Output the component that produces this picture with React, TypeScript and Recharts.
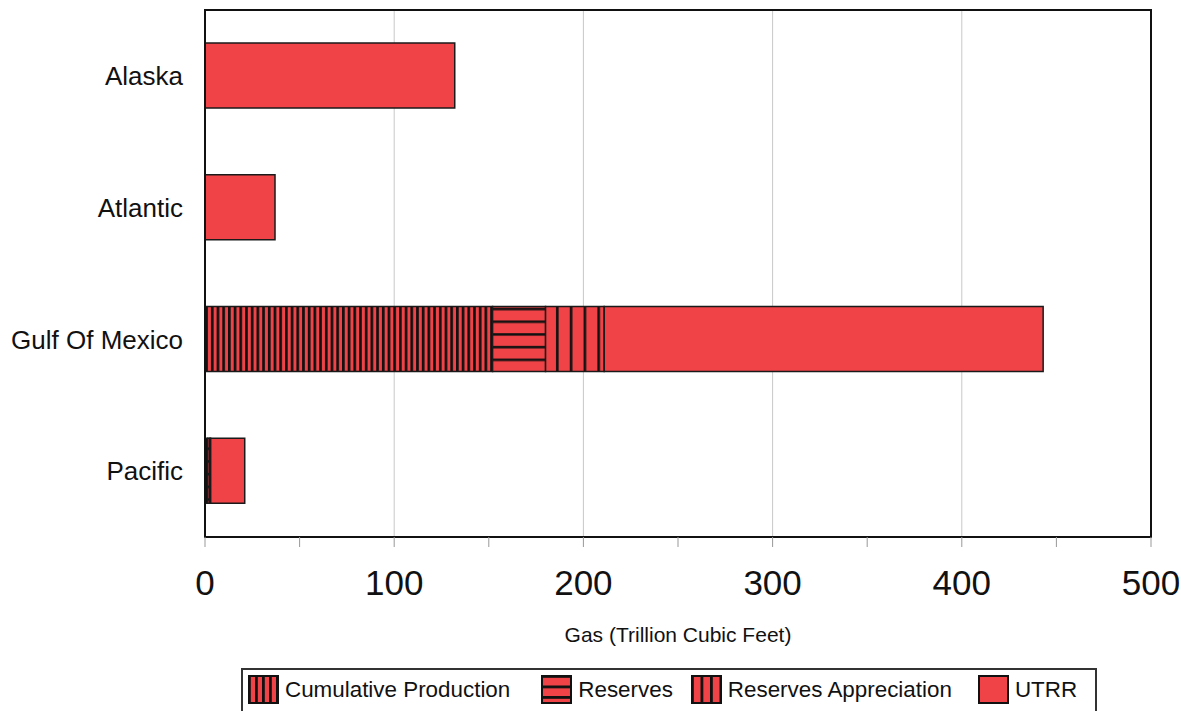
import React from 'react';
import {
  BarChart,
  Bar,
  XAxis,
  YAxis,
  CartesianGrid,
  ReferenceArea,
} from 'recharts';

const regions = ['Alaska', 'Atlantic', 'Gulf Of Mexico', 'Pacific'];
const cumulativeProduction = [0, 0, 152, 1.5];
const reserves = [0, 0, 28, 1];
const reservesAppreciation = [0, 0, 31, 0.5];
const utrr = [132, 37, 232, 18];
const xTicks = [0, 50, 100, 150, 200, 250, 300, 350, 400, 450, 500];
const xDomain = [0, 500];
const gridValues = [100, 200, 300, 400];

const RED = '#F04347';
const FONT = '"Liberation Sans", Arial, sans-serif';

const data = regions.map((region, i) => ({
  region,
  cum: cumulativeProduction[i],
  res: reserves[i],
  app: reservesAppreciation[i],
  utrr: utrr[i],
}));

function patternDefs(prefix: string) {
  return (
    <defs>
      <pattern id={prefix + 'cum'} patternUnits="userSpaceOnUse" width={5.7} height={10}>
        <rect width={5.7} height={10} fill={RED} />
        <rect width={2.7} height={10} fill="#111" />
      </pattern>
      <pattern id={prefix + 'res'} patternUnits="userSpaceOnUse" width={10} height={12.7}>
        <rect width={10} height={12.7} fill={RED} />
        <rect y={3} width={10} height={2.5} fill="#111" />
      </pattern>
      <pattern id={prefix + 'app'} patternUnits="userSpaceOnUse" width={13.8} height={10}>
        <rect width={13.8} height={10} fill={RED} />
        <rect x={4} width={2.6} height={10} fill="#111" />
      </pattern>
      <pattern id={prefix + 'cumS'} patternUnits="userSpaceOnUse" width={7} height={10}>
        <rect width={7} height={10} fill={RED} />
        <rect width={2.8} height={10} fill="#111" />
      </pattern>
      <pattern id={prefix + 'resS'} patternUnits="userSpaceOnUse" width={10} height={10.5}>
        <rect width={10} height={10.5} fill={RED} />
        <rect width={10} height={2.8} fill="#111" />
      </pattern>
      <pattern id={prefix + 'appS'} patternUnits="userSpaceOnUse" width={9.5} height={10}>
        <rect width={9.5} height={10} fill={RED} />
        <rect width={2.8} height={10} fill="#111" />
      </pattern>
    </defs>
  );
}

const XTick = (props: any) => {
  const {x, y, payload} = props;
  if (payload.value % 100 !== 0) return <g />;
  return (
    <text x={x} y={y} dy={46} textAnchor="middle" fontSize={35} fill="#111" fontFamily={FONT}>
      {payload.value}
    </text>
  );
};

// grid lines only at the labelled hundreds
const gridX = (props: any) => {
  const scale = props?.xAxis?.scale;
  if (typeof scale === 'function') return gridValues.map((v) => scale(v));
  const off = props?.offset;
  if (!off) return [];
  return gridValues.map(
    (v) => off.left + ((v - xDomain[0]) / (xDomain[1] - xDomain[0])) * off.width,
  );
};

const legendItems = [
  {name: 'Cumulative Production', key: 'cum'},
  {name: 'Reserves', key: 'res'},
  {name: 'Reserves Appreciation', key: 'app'},
  {name: 'UTRR', key: 'utrr'},
];
const legendGaps = [5, 31, 18, 26];

function Swatch({k}: {k: string}) {
  const fill = k === 'utrr' ? RED : `url(#lg${k}S)`;
  return (
    <svg width={31} height={29} style={{display: 'block'}}>
      {patternDefs('lg')}
      <rect x={1} y={1} width={29} height={27} fill={fill} stroke="#111" strokeWidth={2} />
    </svg>
  );
}

export default function App() {
  return (
    <div style={{position: 'absolute', left: 0, top: 0, width: 1181, height: 711, fontFamily: FONT}}>
      <svg width={0} height={0} style={{position: 'absolute'}}>
        {patternDefs('bar')}
      </svg>
      <BarChart
        width={1181}
        height={711}
        data={data}
        layout="vertical"
        barSize={65}
        margin={{top: 10, right: 30, bottom: 64, left: 0}}
      >
        <CartesianGrid horizontal={false} verticalCoordinatesGenerator={gridX} stroke="#c8c8c8" />
        <XAxis
          type="number"
          domain={xDomain}
          ticks={xTicks}
          interval={0}
          height={110}
          tickSize={10}
          tickLine={{stroke: '#999'}}
          axisLine={{stroke: '#111', strokeWidth: 2}}
          tick={<XTick />}
          label={{
            value: 'Gas (Trillion Cubic Feet)',
            position: 'insideBottom',
            offset: 5,
            fontSize: 21,
            fill: '#111',
            fontFamily: FONT,
          }}
        />
        <YAxis
          type="category"
          dataKey="region"
          width={205}
          tickSize={0}
          tickMargin={22}
          axisLine={{stroke: '#111', strokeWidth: 2}}
          tick={{fontSize: 26, fill: '#111', fontFamily: FONT}}
        />
        <Bar dataKey="cum" stackId="a" fill="url(#barcum)" stroke="#1a1a1a" strokeWidth={1.5} isAnimationActive={false} />
        <Bar dataKey="res" stackId="a" fill="url(#barres)" stroke="#1a1a1a" strokeWidth={1.5} isAnimationActive={false} />
        <Bar dataKey="app" stackId="a" fill="url(#barapp)" stroke="#1a1a1a" strokeWidth={1.5} isAnimationActive={false} />
        <Bar dataKey="utrr" stackId="a" fill={RED} stroke="#1a1a1a" strokeWidth={1.5} isAnimationActive={false} />
        <ReferenceArea x1={0} x2={500} fill="none" stroke="#111" strokeWidth={2} />
      </BarChart>
      <div
        style={{
          position: 'absolute',
          left: 241,
          top: 668,
          width: 856,
          height: 48,
          border: '2px solid #333',
          display: 'flex',
          alignItems: 'flex-start',
          paddingTop: 5,
          boxSizing: 'border-box',
          background: '#fff',
        }}
      >
        {legendItems.map((item, i) => (
          <div
            key={item.key}
            style={{
              display: 'flex',
              alignItems: 'center',
              marginLeft: legendGaps[i],
              fontSize: 22.4,
              color: '#111',
            }}
          >
            <Swatch k={item.key} />
            <span style={{marginLeft: 6}}>{item.name}</span>
          </div>
        ))}
      </div>
    </div>
  );
}
